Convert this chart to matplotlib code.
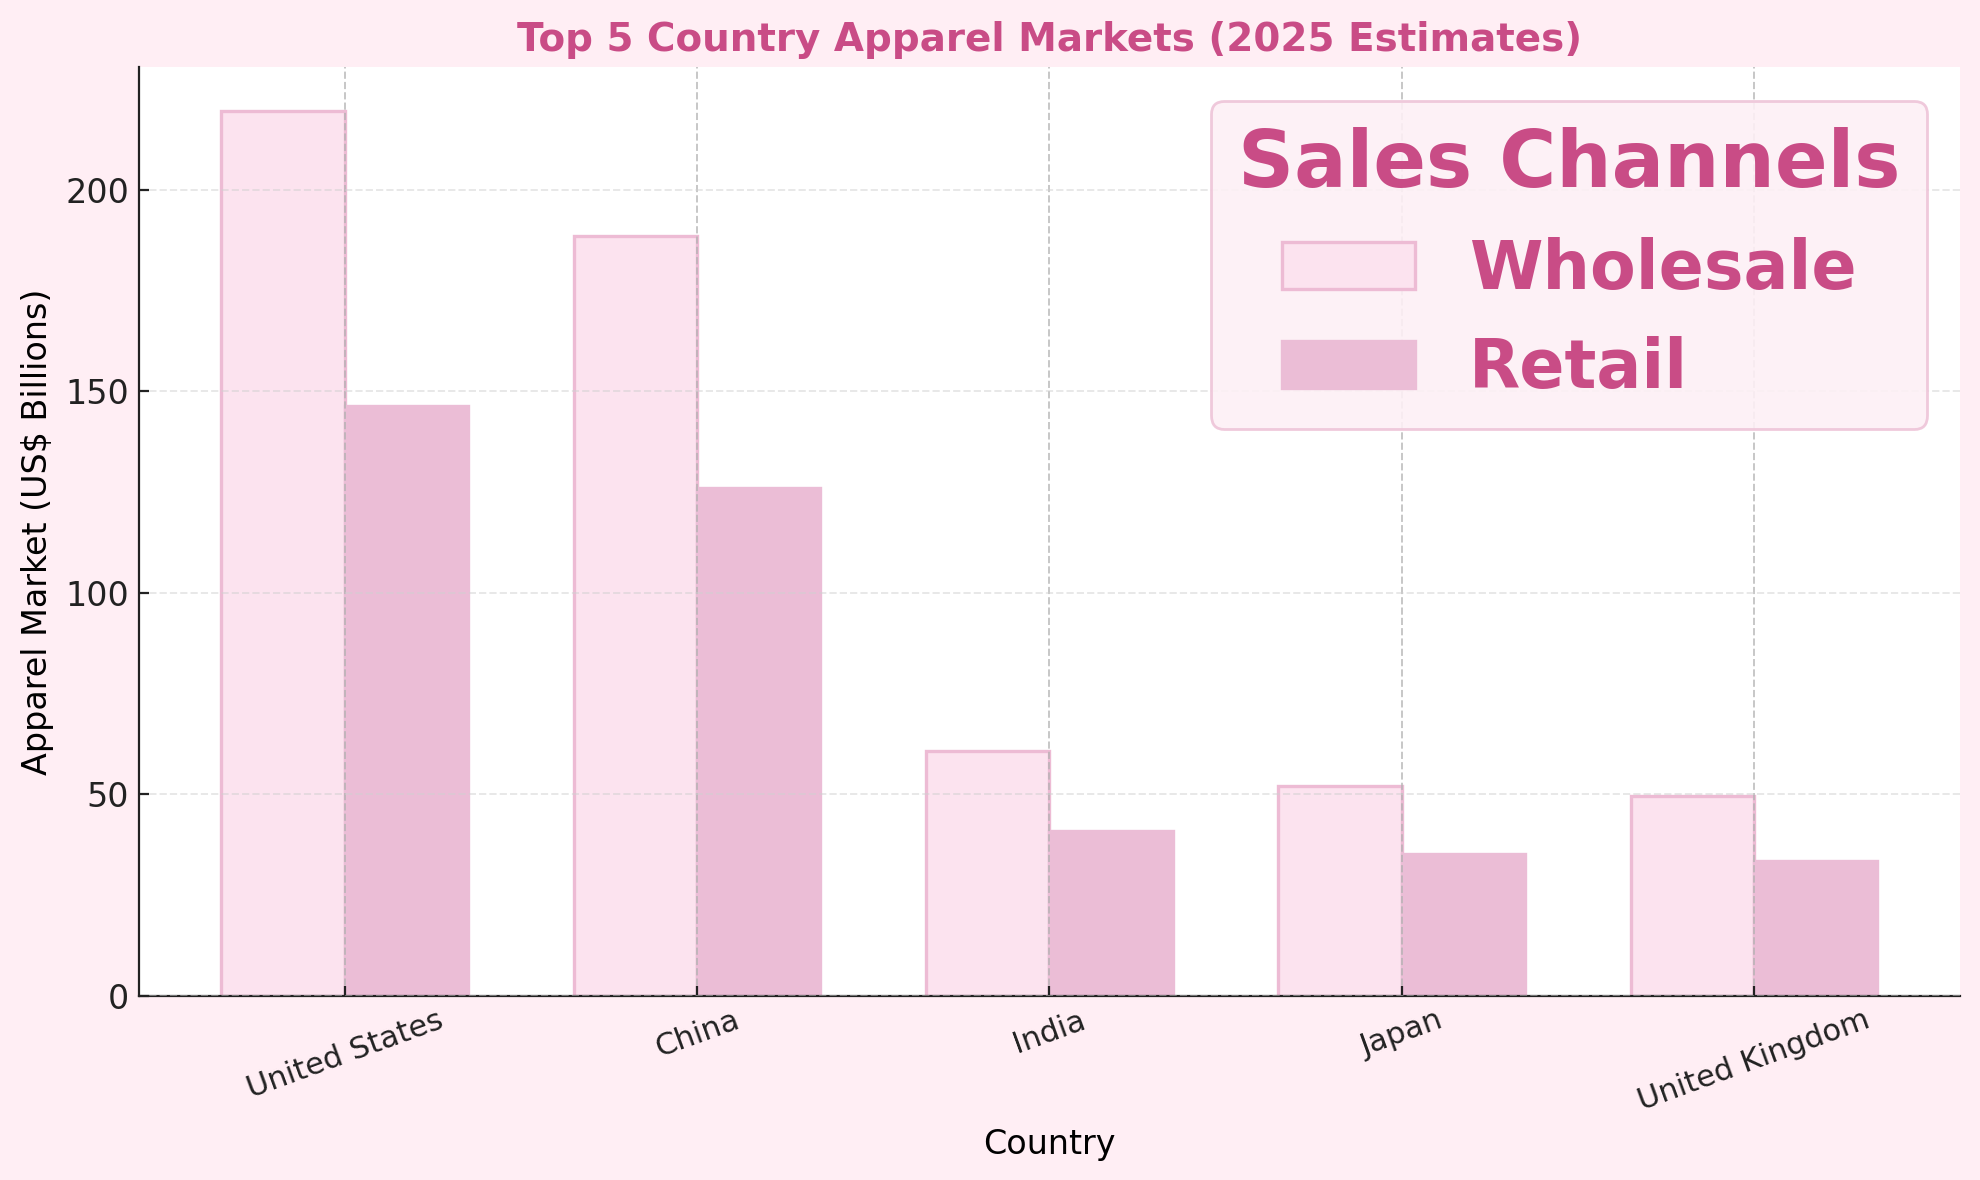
import matplotlib.pyplot as plt
import numpy as np

countries = ["United States", "China", "India", "Japan", "United Kingdom"]
wholesale = [219.4, 188.4, 60.8, 52.0, 49.6]
retail = [146.4, 126.0, 40.8, 35.1, 33.5]

title_color = "#C94C86"

fig, ax = plt.subplots(figsize=(9.9, 5.9), dpi=200)
fig.patch.set_facecolor("#FFEEF4")
ax.set_facecolor("white")

x = np.arange(len(countries))
w = 0.35
ax.bar(x - w / 2, wholesale, w, label="Wholesale", color="#FCE3EF",
       edgecolor="#EDBBD4", linewidth=1.2, zorder=1)
ax.bar(x + w / 2, retail, w, label="Retail", color="#EBBDD6",
       edgecolor="#EBBDD6", linewidth=1.2, zorder=1)

# grid sits over the bars, faint
ax.grid(axis="y", linestyle="--", color="#d0d0d0", alpha=0.5, linewidth=0.7, zorder=2)
ax.grid(axis="x", linestyle="--", color="#b0b0b0", alpha=0.7, linewidth=0.7, zorder=2)
ax.set_axisbelow(False)

for s in ["top", "right"]:
    ax.spines[s].set_visible(False)
ax.spines["left"].set_color("#222222")
ax.spines["bottom"].set_color("#222222")
ax.tick_params(direction="in", labelsize=12, colors="#222222")

ax.set_xticks(x)
ax.set_xticklabels(countries, rotation=20, ha="center", fontsize=11)
ax.set_xlabel("Country", fontsize=12, labelpad=4)
ax.set_ylabel("Apparel Market (US$ Billions)", fontsize=12)
ax.set_title("Top 5 Country Apparel Markets (2025 Estimates)", fontsize=14,
             fontweight="bold", color=title_color, pad=6)

leg = ax.legend(title="Sales Channels", fontsize=24, title_fontsize=28,
                loc="upper right", facecolor="#FDF0F5", edgecolor="#EEC4D8",
                framealpha=0.9)
leg.get_title().set_fontweight("bold")
leg.get_title().set_color(title_color)
for t in leg.get_texts():
    t.set_fontweight("bold")
    t.set_color(title_color)

fig.subplots_adjust(left=0.070, right=0.990, top=0.943, bottom=0.156)
fig.savefig("out.png", facecolor=fig.get_facecolor())
